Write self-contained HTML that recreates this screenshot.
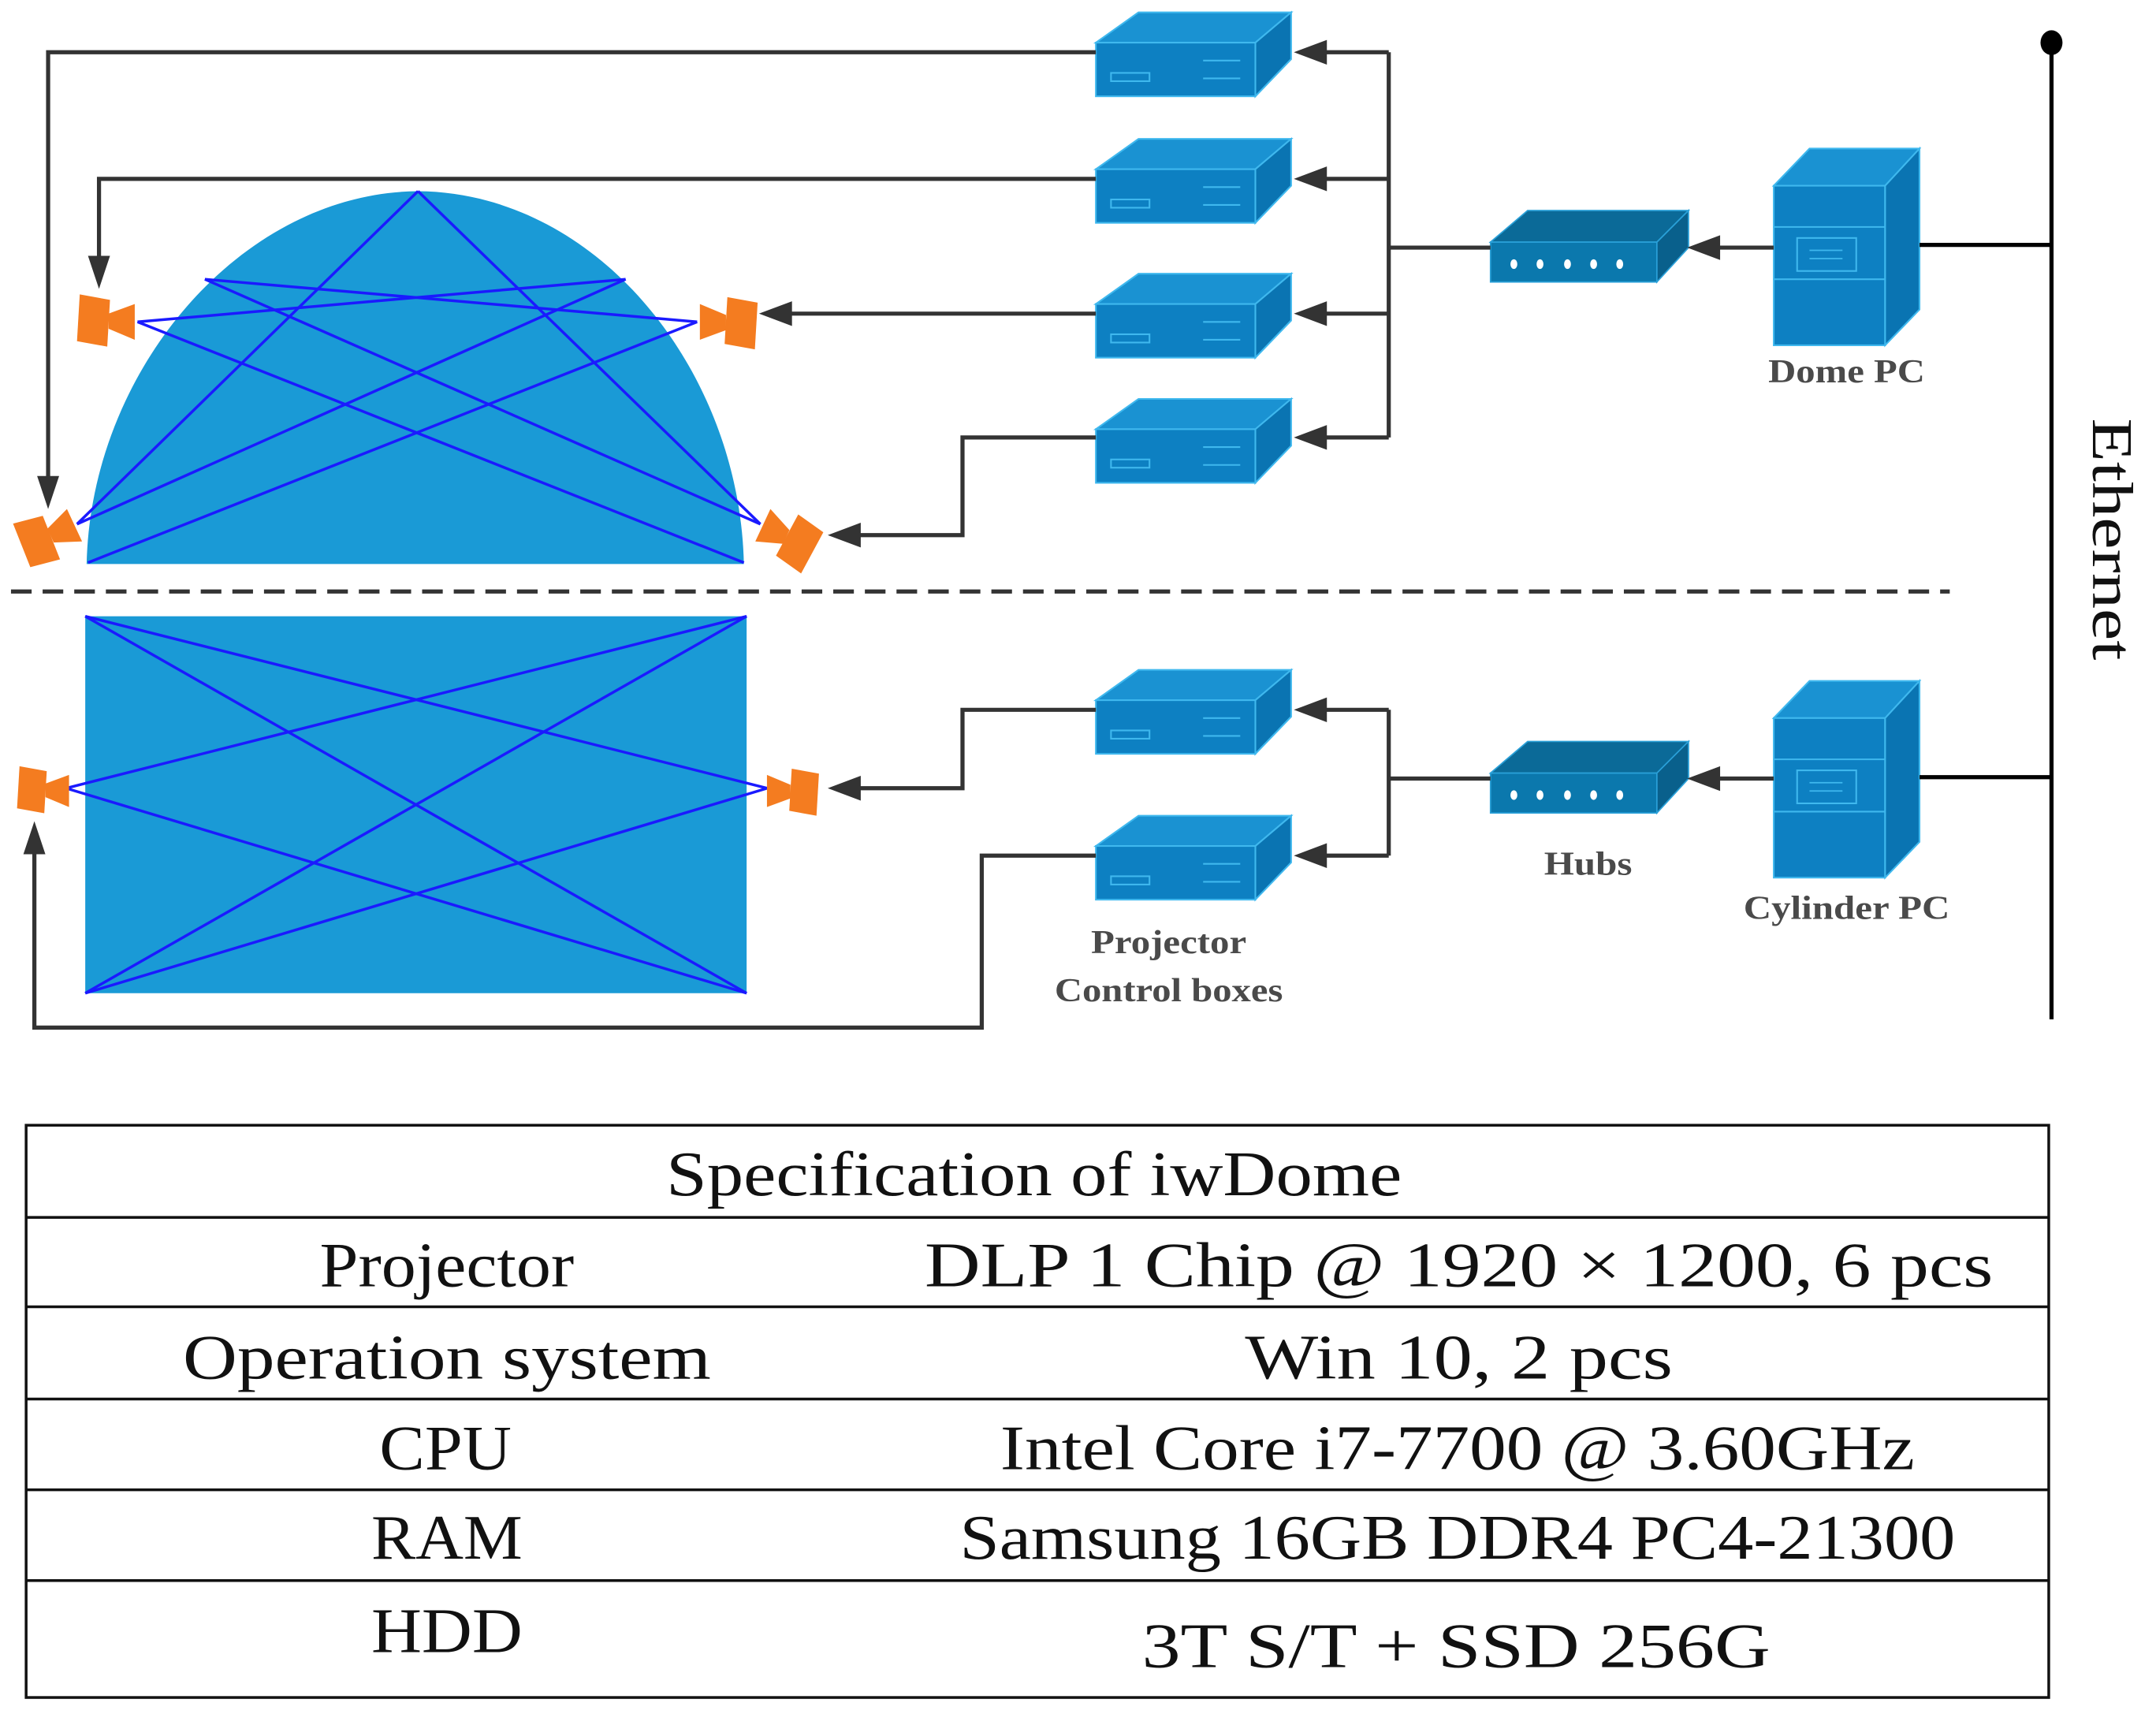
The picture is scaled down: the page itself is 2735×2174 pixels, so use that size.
<!DOCTYPE html>
<html><head><meta charset="utf-8"><style>html,body{margin:0;padding:0;background:#fff}svg{display:block}</style></head>
<body>
<svg width="2735" height="2174" viewBox="0 0 1568 1246" preserveAspectRatio="none" xmlns="http://www.w3.org/2000/svg">
<defs>
<g id="box">
<polygon points="797,22 828,0 939,0 913,22" fill="#1a92d2" stroke="#3fb8ee" stroke-width="1.2"/>
<rect x="797" y="22" width="116" height="39" fill="#0d80c2" stroke="#3fb8ee" stroke-width="1.2"/>
<polygon points="913,22 939,0 939,34 913,61" fill="#0a74b2" stroke="#3fb8ee" stroke-width="1.2"/>
<rect x="808" y="44" width="28" height="6" fill="none" stroke="#3fb8ee" stroke-width="1.2"/>
<line x1="875" y1="35" x2="902" y2="35" stroke="#3fb8ee" stroke-width="1.2"/>
<line x1="875" y1="48" x2="902" y2="48" stroke="#3fb8ee" stroke-width="1.2"/>
</g>
<g id="hub">
<polygon points="1084,23 1111,0 1228,0 1205,23" fill="#0b6a98" stroke="#2aa0d8" stroke-width="1"/>
<rect x="1084" y="23" width="121" height="29" fill="#0b78ad" stroke="#2aa0d8" stroke-width="1"/>
<polygon points="1205,23 1228,0 1228,27 1205,52" fill="#09608c" stroke="#2aa0d8" stroke-width="1"/>
<g fill="#fff"><ellipse cx="1101" cy="39" rx="2.5" ry="3.5"/><ellipse cx="1120" cy="39" rx="2.5" ry="3.5"/><ellipse cx="1140" cy="39" rx="2.5" ry="3.5"/><ellipse cx="1159" cy="39" rx="2.5" ry="3.5"/><ellipse cx="1178" cy="39" rx="2.5" ry="3.5"/></g>
</g>
<g id="pc">
<polygon points="1290,27 1316,0 1396,0 1371,27" fill="#1a92d2" stroke="#3fb8ee" stroke-width="1.2"/>
<rect x="1290" y="27" width="81" height="116" fill="#0d80c2" stroke="#3fb8ee" stroke-width="1.2"/>
<polygon points="1371,27 1396,0 1396,117 1371,143" fill="#0a74b2" stroke="#3fb8ee" stroke-width="1.2"/>
<line x1="1290" y1="57" x2="1371" y2="57" stroke="#3fb8ee" stroke-width="1.2"/>
<line x1="1290" y1="95" x2="1371" y2="95" stroke="#3fb8ee" stroke-width="1.2"/>
<rect x="1307" y="65" width="43" height="24" fill="none" stroke="#3fb8ee" stroke-width="1.2"/>
<line x1="1316" y1="74" x2="1340" y2="74" stroke="#3fb8ee" stroke-width="1"/>
<line x1="1316" y1="80" x2="1340" y2="80" stroke="#3fb8ee" stroke-width="1"/>
</g>
<g id="proj">
<polygon points="-44,-14 -22,-18 -20,16 -42,20" fill="#f47c20"/>
<polygon points="-21,-5 -2,-13 -2,13 -21,6" fill="#f47c20"/>
</g>
</defs>

<path d="M63,410 C66,270 175,140 304,139 C435,140 538,270 541,410 Z" fill="#1a9ad6"/>
<g stroke="#1a1aff" stroke-width="2" fill="none">
<line x1="304" y1="139" x2="56" y2="381"/>
<line x1="304" y1="139" x2="553" y2="381"/>
<line x1="149" y1="203" x2="553" y2="381"/>
<line x1="455" y1="203" x2="56" y2="381"/>
<line x1="100" y1="234" x2="541" y2="409"/>
<line x1="507" y1="234" x2="64" y2="409"/>
<line x1="149" y1="203" x2="507" y2="234"/>
<line x1="455" y1="203" x2="100" y2="234"/>
</g>
<rect x="62" y="448" width="481" height="274" fill="#1a9ad6"/>
<g stroke="#1a1aff" stroke-width="2">
<line x1="62" y1="448" x2="543" y2="722"/>
<line x1="543" y1="448" x2="62" y2="722"/>
<line x1="48" y1="573" x2="543" y2="448"/>
<line x1="48" y1="573" x2="543" y2="722"/>
<line x1="558" y1="573" x2="62" y2="448"/>
<line x1="558" y1="573" x2="62" y2="722"/>
</g>

<use href="#proj" transform="translate(100,234) scale(-1,1) rotate(180)"/>
<use href="#proj" transform="translate(507,234) scale(-1,1)"/>
<use href="#proj" transform="translate(56,381) rotate(-25) scale(-1,1) rotate(180)"/>
<use href="#proj" transform="translate(553,381) rotate(25) scale(-1,1)"/>
<use href="#proj" transform="translate(52,575) scale(-1,1) rotate(180) scale(0.9)"/>
<use href="#proj" transform="translate(556,575) scale(-1,1) scale(0.9)"/>

<line x1="8" y1="430" x2="1418" y2="430" stroke="#333" stroke-width="3" stroke-dasharray="15,8"/>

<use href="#box" transform="translate(0,9)"/>
<use href="#box" transform="translate(0,101)"/>
<use href="#box" transform="translate(0,199)"/>
<use href="#box" transform="translate(0,290)"/>
<use href="#box" transform="translate(0,487)"/>
<use href="#box" transform="translate(0,593)"/>
<use href="#hub" transform="translate(0,153)"/>
<use href="#hub" transform="translate(0,539)"/>
<use href="#pc" transform="translate(0,108)"/>
<use href="#pc" transform="translate(0,495)"/>

<g stroke="#333" stroke-width="3" fill="none">
<polyline points="1010,38 1010,318"/>
<line x1="1010" y1="38" x2="960" y2="38"/>
<line x1="1010" y1="130" x2="960" y2="130"/>
<line x1="1010" y1="228" x2="960" y2="228"/>
<line x1="1010" y1="318" x2="960" y2="318"/>
<line x1="1010" y1="180" x2="1084" y2="180"/>
<line x1="1290" y1="180" x2="1245" y2="180"/>
<polyline points="1010,516 1010,622"/>
<line x1="1010" y1="516" x2="960" y2="516"/>
<line x1="1010" y1="622" x2="960" y2="622"/>
<line x1="1010" y1="566" x2="1084" y2="566"/>
<line x1="1290" y1="566" x2="1245" y2="566"/>
<polyline points="797,38 35,38 35,352"/>
<polyline points="797,130 72,130 72,192"/>
<polyline points="797,228 570,228"/>
<polyline points="797,318 700,318 700,389 620,389"/>
<polyline points="797,516 700,516 700,573 620,573"/>
<polyline points="797,622 714,622 714,747 25,747 25,615"/>
</g>
<g stroke="#000" stroke-width="3">
<line x1="1396" y1="178" x2="1492" y2="178"/>
<line x1="1396" y1="565" x2="1492" y2="565"/>
<line x1="1492" y1="30" x2="1492" y2="741"/>
</g>
<ellipse cx="1492" cy="31" rx="8" ry="9" fill="#000"/>
<g fill="#333">
<polygon points="941,38 965,29 965,47"/>
<polygon points="941,130 965,121 965,139"/>
<polygon points="941,228 965,219 965,237"/>
<polygon points="941,318 965,309 965,327"/>
<polygon points="941,516 965,507 965,525"/>
<polygon points="941,622 965,613 965,631"/>
<polygon points="1227,180 1251,171 1251,189"/>
<polygon points="1227,566 1251,557 1251,575"/>
<polygon points="35,370 27,346 43,346"/>
<polygon points="72,210 64,186 80,186"/>
<polygon points="552,228 576,219 576,237"/>
<polygon points="602,389 626,380 626,398"/>
<polygon points="602,573 626,564 626,582"/>
<polygon points="25,597 17,621 33,621"/>
</g>

<g font-family="'Liberation Serif', serif" font-weight="bold" fill="#4a4a4a" font-size="24" text-anchor="middle">
<text x="1343" y="278" textLength="114" lengthAdjust="spacingAndGlyphs">Dome PC</text>
<text x="1155" y="636" textLength="64" lengthAdjust="spacingAndGlyphs">Hubs</text>
<text x="1343" y="668" textLength="150" lengthAdjust="spacingAndGlyphs">Cylinder PC</text>
<text x="850" y="693" textLength="113" lengthAdjust="spacingAndGlyphs">Projector</text>
<text x="850" y="728" textLength="166" lengthAdjust="spacingAndGlyphs">Control boxes</text>
</g>
<text transform="translate(1522,392) rotate(90)" font-family="'Liberation Serif', serif" font-size="42" fill="#111" text-anchor="middle" textLength="176" lengthAdjust="spacingAndGlyphs">Ethernet</text>

<g stroke="#111" stroke-width="2" fill="none">
<rect x="19" y="818" width="1471" height="416"/>
<line x1="19" y1="885" x2="1490" y2="885"/>
<line x1="19" y1="950" x2="1490" y2="950"/>
<line x1="19" y1="1017" x2="1490" y2="1017"/>
<line x1="19" y1="1083" x2="1490" y2="1083"/>
<line x1="19" y1="1149" x2="1490" y2="1149"/>
</g>
<g font-family="'Liberation Serif', serif" font-size="46" fill="#111" text-anchor="middle">
<text x="752" y="869" textLength="535" lengthAdjust="spacingAndGlyphs">Specification of iwDome</text>
<text x="325" y="935" textLength="185" lengthAdjust="spacingAndGlyphs">Projector</text>
<text x="1061" y="935" textLength="777" lengthAdjust="spacingAndGlyphs">DLP 1 Chip @ 1920 × 1200, 6 pcs</text>
<text x="325" y="1002" textLength="384" lengthAdjust="spacingAndGlyphs">Operation system</text>
<text x="1061" y="1002" textLength="311" lengthAdjust="spacingAndGlyphs">Win 10, 2 pcs</text>
<text x="324" y="1068" textLength="96" lengthAdjust="spacingAndGlyphs">CPU</text>
<text x="1060" y="1068" textLength="665" lengthAdjust="spacingAndGlyphs">Intel Core i7-7700 @ 3.60GHz</text>
<text x="325" y="1133" textLength="110" lengthAdjust="spacingAndGlyphs">RAM</text>
<text x="1060" y="1133" textLength="724" lengthAdjust="spacingAndGlyphs">Samsung 16GB DDR4 PC4-21300</text>
<text x="325" y="1201" textLength="110" lengthAdjust="spacingAndGlyphs">HDD</text>
<text x="1059" y="1212" textLength="457" lengthAdjust="spacingAndGlyphs">3T S/T + SSD 256G</text>
</g>
</svg>
</body></html>
